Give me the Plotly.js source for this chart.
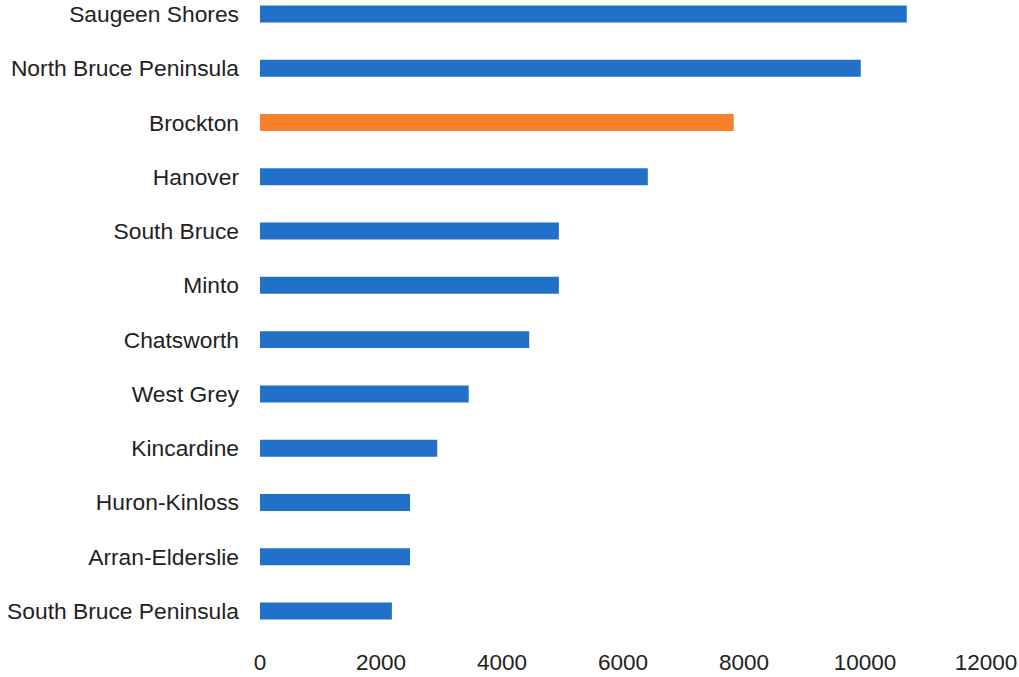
<!DOCTYPE html>
<html>
<head>
<meta charset="utf-8">
<script src="https://cdn.plot.ly/plotly-3.0.1.min.js"></script>
<style>html,body{margin:0;padding:0;background:#fff;}#chart{width:1019px;height:677px;}</style>
</head>
<body>
<div id="chart"></div>
<script>
const categories = ["Saugeen Shores","North Bruce Peninsula","Brockton","Hanover","South Bruce","Minto","Chatsworth","West Grey","Kincardine","Huron-Kinloss","Arran-Elderslie","South Bruce Peninsula"];
const values = [10690, 9930, 7830, 6410, 4940, 4940, 4450, 3450, 2930, 2480, 2480, 2180];
const highlight = "Brockton";
const xTicks = [0, 2000, 4000, 6000, 8000, 10000, 12000];

const blue = "#2271c8", orange = "#f6802b";
const colors = categories.map(c => c === highlight ? orange : blue);

const trace = {
  type: "bar", orientation: "h",
  x: values, y: categories,
  marker: {color: colors},
  hoverinfo: "x+y"
};

const layout = {
  width: 1019, height: 677,
  margin: {l: 260, r: 33, t: 0, b: 39},
  paper_bgcolor: "#fff", plot_bgcolor: "#fff",
  bargap: 0.687,
  showlegend: false,
  font: {family: "'Liberation Sans', Arial, sans-serif", size: 22.5, color: "#222"},
  xaxis: {
    range: [0, 12000], tickvals: xTicks, ticktext: xTicks.map(String),
    showgrid: false, zeroline: false, showline: false, ticks: "",
    ticklabelstandoff: 8,
    tickfont: {size: 22.5, color: "#222"}
  },
  yaxis: {
    type: "category", categoryorder: "array", categoryarray: categories,
    range: [11.498, -0.258],
    showgrid: false, zeroline: false, showline: false, ticks: "",
    ticklabelstandoff: 20,
    tickfont: {size: 22.8, color: "#222"}
  }
};

Plotly.newPlot("chart", [trace], layout, {displayModeBar: false, staticPlot: true});
</script>
</body>
</html>
